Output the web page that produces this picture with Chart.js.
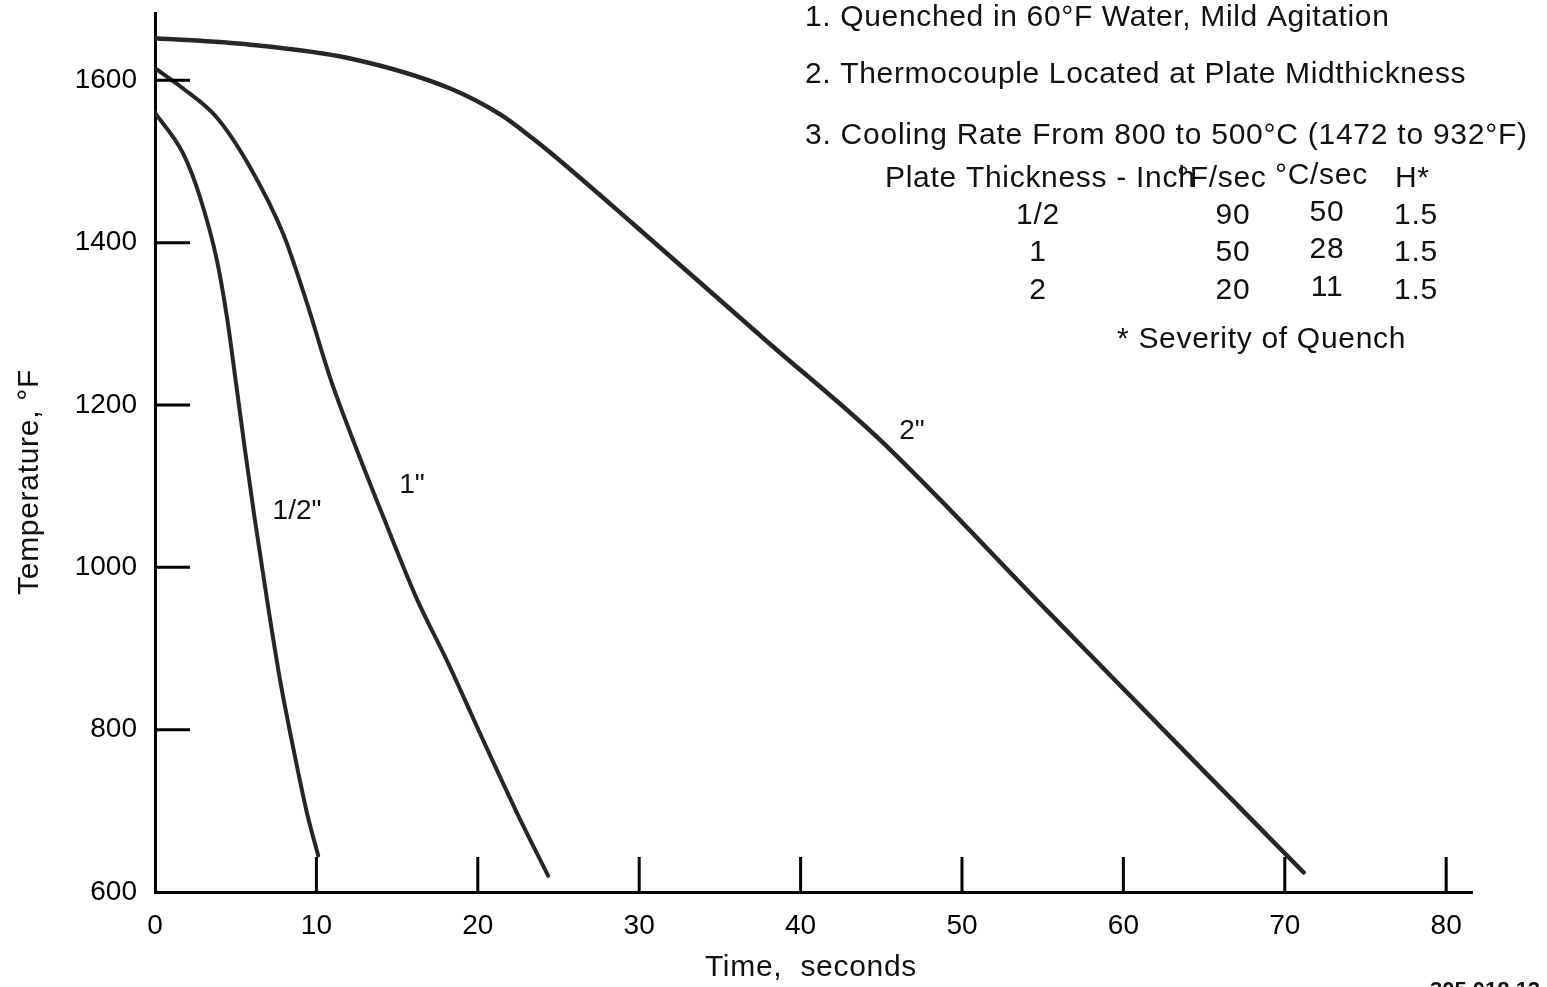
<!DOCTYPE html>
<html>
<head>
<meta charset="utf-8">
<script src="https://cdn.jsdelivr.net/npm/chart.js@4.4.0/dist/chart.umd.min.js"></script>
<style>
body { margin: 0; background: #fff; }
#wrap { width: 1547px; height: 987px; }
</style>
</head>
<body>
<div id="wrap"><canvas id="quench-chart"></canvas></div>
<script>
// tick values
const xTicks = [0, 10, 20, 30, 40, 50, 60, 70, 80];
const yTicks = [600, 800, 1000, 1200, 1400, 1600];

// 1/2 inch plate
const halfTime = [0, 1.74, 2.79, 3.84, 4.46, 5.02, 5.58, 6.17, 6.88, 7.75, 8.56, 9.42, 10.11];
const halfTemp = [1560, 1510, 1456, 1378, 1308, 1227, 1144, 1061, 968, 861, 778, 697, 645];
// 1 inch plate
const oneTime = [0, 1.74, 3.84, 5.89, 7.94, 9.36, 10.91, 12.52, 14.07, 16.18, 18.16, 20.33, 22.44, 24.36];
const oneTemp = [1615, 1590, 1554, 1493, 1411, 1329, 1230, 1144, 1066, 963, 882, 787, 697, 620];
// 2 inch plate
const twoTime = [0, 5.89, 12.09, 18.29, 21.39, 23.43, 24.49, 29.63, 37.94, 44.76, 55.30, 64.79, 71.17];
const twoTemp = [1652, 1644, 1627, 1590, 1558, 1528, 1511, 1423, 1278, 1160, 946, 753, 624];

const notes = [
    '1. Quenched in 60°F Water, Mild Agitation',
    '2. Thermocouple Located at Plate Midthickness',
    '3. Cooling Rate From 800 to 500°C (1472 to 932°F)'
];
const tableHead = ['Plate Thickness - Inch', '°F/sec', '°C/sec', 'H*'];
const tableThickness = ['1/2', '1', '2'];
const tableRateF = ['90', '50', '20'];
const tableRateC = ['50', '28', '11'];
const tableH = ['1.5', '1.5', '1.5'];

const FONT = '"Liberation Sans", Arial, Helvetica, sans-serif';

function toXY(xs, ys) {
    return xs.map((x, i) => ({ x: x, y: ys[i] }));
}

// inward tick marks + text annotations
const decorPlugin = {
    id: 'decor',
    afterDraw(chart) {
        let ctx = chart.ctx;
        let xs = chart.scales.x;
        let ys = chart.scales.y;
        let area = chart.chartArea;
        ctx.save();
        ctx.strokeStyle = '#000';
        ctx.lineWidth = 3;
        xTicks.forEach(v => {
            if (v == 0) return;
            let px = xs.getPixelForValue(v);
            ctx.beginPath();
            ctx.moveTo(px, area.bottom);
            ctx.lineTo(px, area.bottom - 35);
            ctx.stroke();
        });
        yTicks.forEach(v => {
            if (v == 600) return;
            let py = ys.getPixelForValue(v);
            ctx.beginPath();
            ctx.moveTo(area.left, py);
            ctx.lineTo(area.left + 35, py);
            ctx.stroke();
        });

        ctx.fillStyle = '#111';
        ctx.textBaseline = 'middle';
        ctx.font = '30px ' + FONT;
        ctx.textAlign = 'left';
        ctx.letterSpacing = '0.65px';
        ctx.fillText(notes[0], 805, 18);
        ctx.fillText(notes[1], 805, 75);
        ctx.letterSpacing = '0.75px';
        ctx.fillText(notes[2], 805, 136);

        ctx.letterSpacing = '0.7px';
        ctx.fillText(tableHead[0], 885, 179);
        ctx.fillText(tableHead[1], 1177, 179);
        ctx.fillText(tableHead[2], 1275, 176);
        ctx.fillText(tableHead[3], 1395, 179);
        ctx.textAlign = 'center';
        let rowY = [216, 253, 291];
        for (let i = 0; i < 3; i++) {
            ctx.fillText(tableThickness[i], 1038, rowY[i]);
            ctx.fillText(tableRateF[i], 1233, rowY[i]);
            ctx.fillText(tableRateC[i], 1327, rowY[i] - 3);
            ctx.fillText(tableH[i], 1416, rowY[i]);
        }
        ctx.textAlign = 'left';
        ctx.fillText('* Severity of Quench', 1117, 340);

        // axis titles
        ctx.textAlign = 'center';
        ctx.fillText('Time,  seconds', 811, 968);
        ctx.save();
        ctx.translate(30, 482);
        ctx.rotate(-Math.PI / 2);
        ctx.fillText('Temperature, °F', 0, 0);
        ctx.restore();

        // curve labels
        ctx.letterSpacing = '0px';
        ctx.font = '28px ' + FONT;
        ctx.fillText('1/2"', 297, 511);
        ctx.fillText('1"', 412, 485);
        ctx.fillText('2"', 912, 431);

        // figure id, cut at the page edge
        ctx.textAlign = 'left';
        ctx.textBaseline = 'top';
        ctx.font = 'bold 22px ' + FONT;
        ctx.fillText('305 018 12', 1430, 980);
        ctx.restore();
    }
};

function lineSet(label, xs, ys, width) {
    return {
        label: label,
        data: toXY(xs, ys),
        borderColor: '#262626',
        borderWidth: width,
        pointRadius: 0,
        fill: false,
        showLine: true,
        cubicInterpolationMode: 'monotone',
        borderCapStyle: 'round'
    };
}

let ctx = document.getElementById('quench-chart');
let chart = new Chart(ctx, {
    type: 'scatter',
    data: {
        datasets: [
            lineSet('1/2"', halfTime, halfTemp, 4),
            lineSet('1"', oneTime, oneTemp, 4),
            lineSet('2"', twoTime, twoTemp, 4.5)
        ]
    },
    options: {
        responsive: true,
        maintainAspectRatio: false,
        animation: false,
        layout: { padding: { top: 13, right: 75, left: 0, bottom: 0 } },
        plugins: {
            legend: { display: false },
            tooltip: { enabled: false }
        },
        scales: {
            x: {
                type: 'linear',
                min: 0,
                max: 81.6,
                afterBuildTicks: scale => { scale.ticks = xTicks.map(v => ({ value: v })); },
                afterFit: scale => {
                    scale.height = 95;
                    scale.paddingLeft = 0;
                    scale.paddingRight = 0;
                },
                grid: { display: false, drawTicks: false },
                border: { display: true, color: '#000', width: 3 },
                ticks: {
                    color: '#000',
                    padding: 17,
                    maxRotation: 0,
                    callback: v => String(v),
                    font: { family: FONT, size: 28 }
                }
            },
            y: {
                type: 'linear',
                min: 600,
                max: 1683,
                afterBuildTicks: scale => { scale.ticks = yTicks.map(v => ({ value: v })); },
                afterFit: scale => {
                    scale.width = 155;
                    scale.paddingTop = 0;
                    scale.paddingBottom = 0;
                },
                grid: { display: false, drawTicks: false },
                border: { display: true, color: '#000', width: 3 },
                ticks: {
                    color: '#000',
                    padding: 18,
                    callback: v => String(v),
                    font: { family: FONT, size: 28 }
                }
            }
        }
    },
    plugins: [decorPlugin]
});
</script>
</body>
</html>
